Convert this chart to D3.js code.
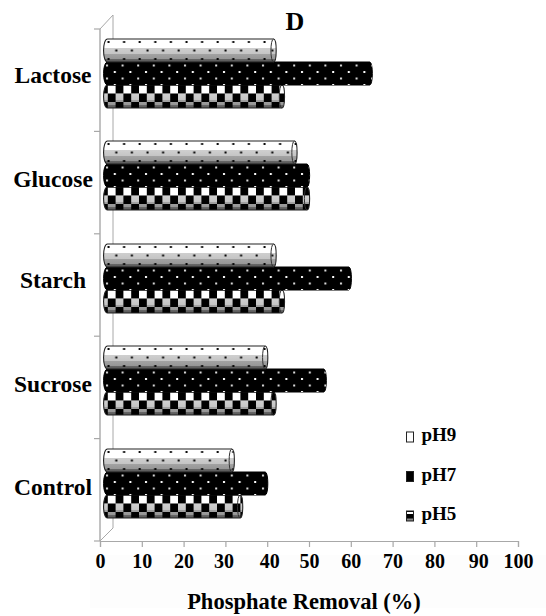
<!DOCTYPE html>
<html><head><meta charset="utf-8">
<style>html,body{margin:0;padding:0;background:#fff}svg{display:block}text{font-family:"Liberation Serif",serif;font-weight:bold;fill:#000}</style>
<script src="https://cdnjs.cloudflare.com/ajax/libs/d3/7.8.5/d3.min.js"></script></head><body>
<script>
const categories=["Lactose","Glucose","Starch","Sucrose","Control"];
const seriesNames=["pH9","pH7","pH5"];
const pH9=[42,47,42,40,32];
const pH7=[65,50,60,54,40];
const pH5=[44,50,44,42,34];
const ticks=[0,10,20,30,40,50,60,70,80,90,100];
const valuesBy={pH9,pH7,pH5};

const W=546,H=616;
const svg=d3.select("body").append("svg").attr("width",W).attr("height",H);
const defs=svg.append("defs");
svg.append("rect").attr("x",90).attr("y",555).attr("width",456).attr("height",53).attr("fill","#fdfdfd");
const x=d3.scaleLinear().domain([0,100]).range([100,518]);
const y=d3.scaleBand().domain(categories).range([29,541]);
const inner=d3.scaleBand().domain(seriesNames).range([y.bandwidth()*0.098,y.bandwidth()*0.77]);
const depth=13, barLeft=104;

const grad=(id,stops)=>{const g=defs.append("linearGradient").attr("id",id).attr("x1",0).attr("y1",0).attr("x2",0).attr("y2",1);
 stops.forEach(([o,c])=>{g.append("stop").attr("offset",o).attr("stop-color",c);});};
grad("cyl",[[0,"#fff"],[.40,"#fff"],[.40,"#cfcfcf"],[.66,"#c4c4c4"],[.66,"#a2a2a2"],[.86,"#969696"],[.86,"#6a6a6a"],[1,"#555"]]);

const pat=(id,w,h,px,draw)=>{const p=defs.append("pattern").attr("id",id).attr("patternUnits","userSpaceOnUse").attr("x",px).attr("width",w).attr("height",h);draw(p);};
const dot=(p,cx,cy,s,c)=>p.append("rect").attr("x",cx-s/2).attr("y",cy-s/2).attr("width",s).attr("height",s).attr("fill",c);
pat("dotsK",15.6,17,0,p=>{dot(p,4.5,3,2,"#000");dot(p,12.3,11.5,2,"#000");});
pat("dotsW",15.6,13,0,p=>{dot(p,3,3.5,2,"#ddd");dot(p,10.8,10,2,"#fff");});
pat("check",15.6,17,-4,p=>{
 p.append("rect").attr("x",0).attr("y",0).attr("width",7.8).attr("height",8.5).attr("fill","#000");
 p.append("rect").attr("x",7.8).attr("y",8.5).attr("width",7.8).attr("height",8.5).attr("fill","#000");
});

// walls and axes
const grey="#a8a8a8";
const g=svg.append("g");
g.append("line").attr("x1",x(0)+depth).attr("x2",x(0)+depth).attr("y1",y.range()[0]-14).attr("y2",y.range()[1]-13).attr("stroke",grey);
g.append("line").attr("x1",x(0)).attr("x2",x(0)+depth).attr("y1",y.range()[0]).attr("y2",y.range()[0]-14).attr("stroke",grey);
g.append("line").attr("x1",x(0)).attr("x2",x(0)+depth).attr("y1",y.range()[1]).attr("y2",y.range()[1]-13).attr("stroke",grey);
g.append("line").attr("x1",x(0)).attr("x2",x(0)).attr("y1",y.range()[0]).attr("y2",y.range()[1]).attr("stroke",grey).attr("stroke-width",1.4);

const tickNudge={30:-2,40:2,90:2};
const xAxis=d3.axisBottom(x).tickValues(ticks).tickSize(6).tickPadding(7);
const ax=svg.append("g").attr("transform",`translate(0,${y.range()[1]})`).call(xAxis);
ax.select(".domain").attr("stroke",grey).attr("stroke-width",1.2);
ax.selectAll(".tick line").attr("stroke",grey).attr("stroke-width",1.2);
ax.selectAll("text").style("font-family",'"Liberation Serif",serif').style("font-weight","bold").style("font-size","20px").attr("fill","#000").attr("dx",d=>tickNudge[d]||0);

const yTicks=[...categories.map(c=>y(c)),y.range()[1]];
svg.selectAll(".yt").data(yTicks).join("line").attr("x1",x(0)-6).attr("x2",x(0)).attr("y1",d=>d).attr("y2",d=>d).attr("stroke",grey).attr("stroke-width",1.2);

// bars
const drawBar=(sel,s)=>{
 sel.each(function(d){
  const bx=barLeft, by=Math.round(y(d.c)+inner(s)), bw=x(d.v)+1.5-barLeft, bh=Math.round(inner.bandwidth());
  const gg=d3.select(this).attr("transform",`translate(${bx},${by})`);
  const r=3.5;
  const path=d3.path();
  path.moveTo(r,0);path.lineTo(bw-r,0);
  path.bezierCurveTo(bw,0,bw,bh,bw-r,bh);
  path.lineTo(r,bh);
  path.bezierCurveTo(-r/2,bh,-r/2,0,r,0);path.closePath();
  const p=path.toString();
  if(s==="pH7"){
   gg.append("path").attr("d",p).attr("fill","#000").attr("stroke","#000");
   gg.append("path").attr("d",p).attr("fill","url(#dotsW)");
  } else {
   gg.append("path").attr("d",p).attr("fill","url(#cyl)");
   gg.append("path").attr("d",p).attr("fill",s==="pH9"?"url(#dotsK)":"url(#check)");
   gg.append("path").attr("d",p).attr("fill","none").attr("stroke","#222").attr("stroke-width",1.1);
   gg.append("path").attr("d",`M${bw-r},0C${bw-r*2},0 ${bw-r*2},${bh} ${bw-r},${bh}`).attr("fill","none").attr("stroke","#333").attr("stroke-width",1);
  }
 });
};
seriesNames.slice().reverse().forEach(s=>{
 const data=categories.map((c,i)=>({c,v:valuesBy[s][i]}));
 svg.append("g").selectAll("g").data(data).join("g").call(drawBar,s);
});

// category labels
const labelNudge=[2.3,3.9,2.5,4.1,4.7];
svg.selectAll(".cat").data(categories).join("text").attr("x",53).attr("y",(d,i)=>y(d)+y.bandwidth()/2+labelNudge[i])
 .attr("text-anchor","middle").attr("font-size",23.5).text(d=>d);

// title + axis title
svg.append("text").attr("x",295).attr("y",30).attr("text-anchor","middle").attr("font-size",26).text("D");
svg.append("text").attr("x",304).attr("y",609).attr("text-anchor","middle").attr("font-size",22.5).text("Phosphate Removal (%)");

// legend
const legY=d3.scalePoint().domain(seriesNames).range([437,516]);
const lg=svg.selectAll(".lg").data(seriesNames).join("g").attr("transform",d=>`translate(406.5,${legY(d)})`);
lg.append("rect").attr("x",0).attr("y",-5).attr("width",7).attr("height",10).attr("stroke","#222").attr("fill",d=>d==="pH9"?"#fff":"#000");
lg.filter(d=>d==="pH5").append("rect").attr("x",.5).attr("y",-4).attr("width",6).attr("height",2).attr("fill","#fff");
lg.filter(d=>d==="pH5").append("rect").attr("x",.5).attr("y",2.5).attr("width",6).attr("height",2).attr("fill","#888");
lg.append("text").attr("x",15).attr("y",4).attr("font-size",19).text(d=>d);
</script></body></html>
